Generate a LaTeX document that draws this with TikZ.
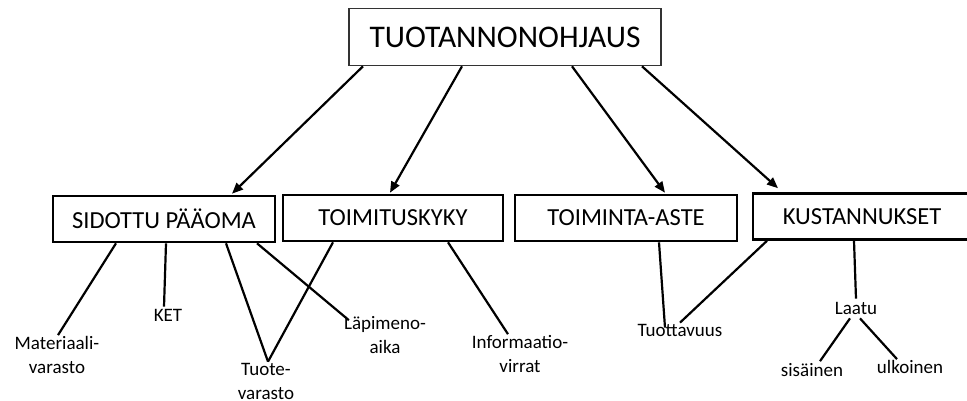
\documentclass[tikz,border=0pt]{standalone}
\usepackage{fontspec}
\setmainfont{Carlito}
\usetikzlibrary{arrows.meta,calc}
\begin{document}
\begin{tikzpicture}[x=1pt,y=-1pt,
  topbox/.style={draw=black!80,line width=1.6pt,minimum width=312pt,minimum height=57pt,inner sep=0pt,font=\fontsize{31.5}{37}\selectfont},
  catbox/.style={draw=black,line width=2.6pt,minimum height=46pt,inner sep=0pt,font=\fontsize{24.5}{29}\selectfont},
  leaf/.style={inner sep=0pt,align=center,font=\fontsize{19}{24}\selectfont},
  arr/.style={line width=2.2pt,-{Triangle[length=11pt,width=9pt]}},
  conn/.style={line width=2.2pt}]
\useasboundingbox (0,0) rectangle (967,400);
\node[topbox] (top) at (505,37) {TUOTANNONOHJAUS};
\node[catbox,minimum width=222pt] (sid) at (164,219) {SIDOTTU PÄÄOMA};
\node[catbox,minimum width=220pt] (tk) at (393,218) {TOIMITUSKYKY};
\node[catbox,minimum width=222pt] (toim) at (626,218) {TOIMINTA-ASTE};
\node[catbox,minimum width=218pt] (kust) at (862,216.5) {KUSTANNUKSET};
\node[leaf] (mat) at (57,355) {Materiaali-\\varasto};
\node[leaf] (ket) at (168,315) {KET};
\node[leaf] (tuote) at (266,381) {Tuote-\\varasto};
\node[leaf] (lap) at (385,335) {Läpimeno-\\aika};
\node[leaf] (info) at (520,354) {Informaatio-\\virrat};
\node[leaf] (tuot) at (680,330) {Tuottavuus};
\node[leaf] (laatu) at (856,308) {Laatu};
\node[leaf] (sis) at (812,370) {sisäinen};
\node[leaf] (ulk) at (910,367) {ulkoinen};
% arrows
\draw[arr] ([xshift=-142pt]top.south) -- ([xshift=68pt,yshift=1pt]sid.north);
\draw[arr] ([xshift=-43pt]top.south) -- ([xshift=-3pt,yshift=1pt]tk.north);
\draw[arr] ([xshift=67pt]top.south) -- ([xshift=39pt,yshift=1pt]toim.north);
\draw[arr] ([xshift=137pt]top.south) -- ([xshift=-84pt,yshift=4pt]kust.north);
% connectors
\draw[conn] ([xshift=-48pt]sid.south) -- ([xshift=1pt,yshift=1pt]mat.north);
\draw[conn] ([xshift=2pt]sid.south) -- ([xshift=-4pt,yshift=2pt]ket.north);
\draw[conn] ([xshift=62pt]sid.south) -- ([xshift=2pt,yshift=1pt]tuote.north);
\draw[conn] ([xshift=93pt]sid.south) -- ([xshift=5pt,yshift=-4pt]lap.north west);
\draw[conn] ([xshift=-60pt]tk.south) -- ([xshift=2pt,yshift=1pt]tuote.north);
\draw[conn] ([xshift=55pt]tk.south) -- ([xshift=-12pt,yshift=1pt]info.north);
\draw[conn] ([xshift=33pt]toim.south) -- ([xshift=-15pt,yshift=-4pt]tuot.north);
\draw[conn] ([xshift=-95pt]kust.south) -- ([xshift=0pt,yshift=1pt]tuot.north);
\draw[conn] ([xshift=-8pt]kust.south) -- ([xshift=0pt,yshift=3pt]laatu.north);
\draw[conn] ([xshift=-6pt,yshift=-4pt]laatu.south) -- ([xshift=8pt,yshift=2pt]sis.north);
\draw[conn] ([xshift=4pt,yshift=-4pt]laatu.south) -- ([xshift=-13pt,yshift=1pt]ulk.north);
\end{tikzpicture}
\end{document}
